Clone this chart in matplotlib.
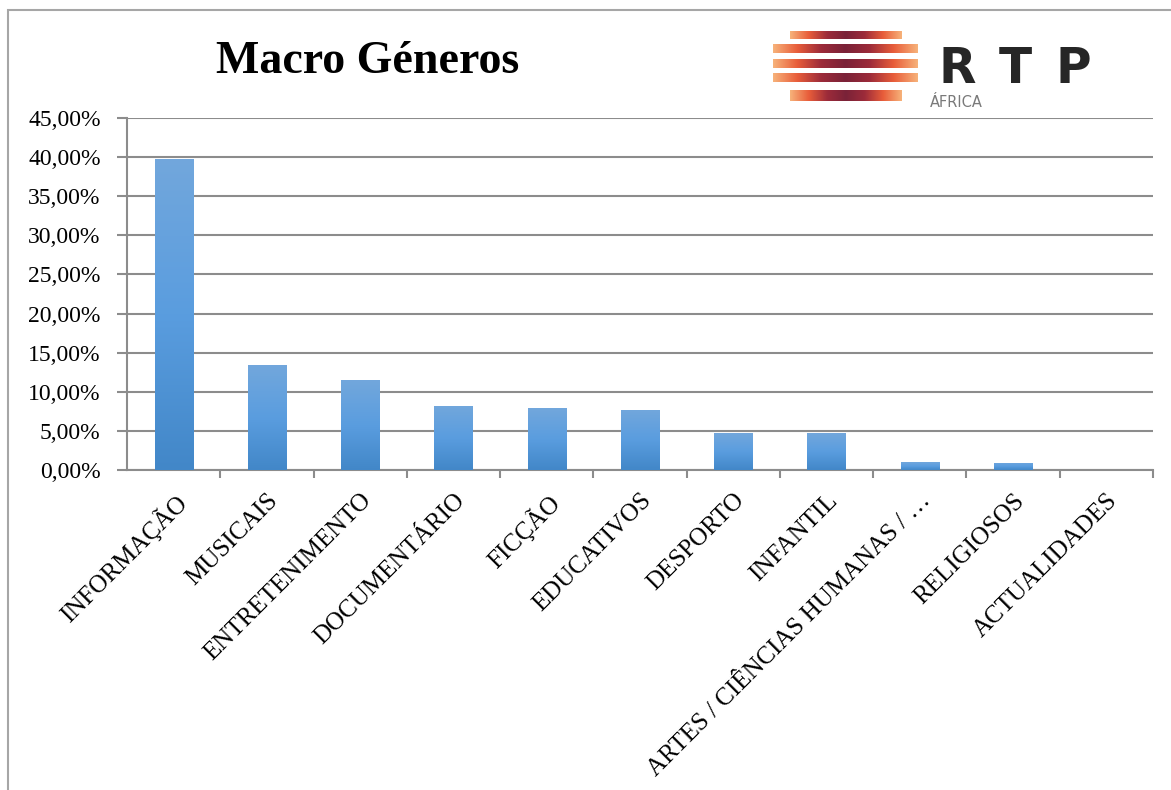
import numpy as np
import matplotlib.pyplot as plt
from matplotlib.colors import LinearSegmentedColormap
from matplotlib.patches import Rectangle

categories = ["INFORMAÇÃO", "MUSICAIS", "ENTRETENIMENTO", "DOCUMENTÁRIO", "FICÇÃO",
              "EDUCATIVOS", "DESPORTO", "INFANTIL", "ARTES / CIÊNCIAS HUMANAS / …",
              "RELIGIOSOS", "ACTUALIDADES"]
values = [39.8, 13.4, 11.5, 8.2, 7.9, 7.7, 4.7, 4.7, 1.0, 0.9, 0.0]
yticks = [0, 5, 10, 15, 20, 25, 30, 35, 40, 45]
ytick_labels = [("%.2f%%" % v).replace(".", ",") for v in yticks]

plt.rcParams['font.family'] = ['Liberation Serif', 'DejaVu Serif']

W, H = 1171, 790
fig = plt.figure(figsize=(W / 100, H / 100), dpi=100)

# outer frame of the chart
fig.patches.append(Rectangle((8 / W, -0.1), 1.2, (H - 10) / H + 0.1, transform=fig.transFigure,
                             fill=False, edgecolor="#a6a6a6", linewidth=1.5))

ax = fig.add_axes([127 / W, 1 - 470 / H, (1153 - 127) / W, (470 - 118) / H])
x = np.arange(len(categories))
bars = ax.bar(x, values, width=0.41, color="#5b9bd5", zorder=3)

# vertical gradient inside each bar
grad = np.linspace(0, 1, 256).reshape(-1, 1)
cmap = LinearSegmentedColormap.from_list("bar", ["#4287c8", "#5a9ddf", "#72a7dc"])
for b in bars:
    if b.get_height() <= 0:
        continue
    bx, by = b.get_x(), b.get_y()
    im = ax.imshow(grad, cmap=cmap, aspect="auto", origin="lower",
                   extent=[bx, bx + b.get_width(), by, by + b.get_height()], zorder=4)
    im.set_clip_path(b)

ax.set_xlim(-0.5, len(categories) - 0.5)
ax.set_ylim(0, 45)
ax.set_yticks(yticks)
ax.set_yticklabels(ytick_labels, fontsize=17)
ax.yaxis.grid(True, color="#8c8c8c", linewidth=1.5, zorder=0)
ax.set_axisbelow(True)

ax.set_xticks(x)
ax.set_xticklabels(categories, rotation=45, ha="right", rotation_mode="anchor", fontsize=18)
ax.tick_params(axis="x", length=0, pad=14)
ax.set_xticks(np.arange(len(categories)) + 0.5, minor=True)
ax.tick_params(axis="x", which="minor", length=6, color="#8c8c8c", width=1.5)
ax.tick_params(axis="y", length=7, color="#8c8c8c", width=1.5, pad=12)

for side in ["top", "right"]:
    ax.spines[side].set_visible(False)
for side in ["left", "bottom"]:
    ax.spines[side].set_color("#8c8c8c")
    ax.spines[side].set_linewidth(1.5)

fig.text(368 / W, 1 - 62 / H, "Macro Géneros", fontsize=33, fontweight="bold",
         ha="center", va="center")

# RTP Africa logo
lax = fig.add_axes([0, 0, 1, 1])
lax.set_xlim(0, W)
lax.set_ylim(H, 0)
lax.axis("off")
stripe_cmap = LinearSegmentedColormap.from_list(
    "stripe", ["#f7b27a", "#e85d3a", "#9c2b3a", "#7a2238", "#9c2b3a", "#e85d3a", "#f7b27a"])
sgrad = np.linspace(0, 1, 256).reshape(1, -1)
stripes = [(790, 902, 31, 39), (773, 918, 44, 53), (773, 918, 59, 68),
           (773, 918, 73, 82), (790, 902, 90, 101)]
for x0, x1, y0, y1 in stripes:
    lax.imshow(sgrad, cmap=stripe_cmap, aspect="auto", extent=[x0, x1, y1, y0])
lax.set_xlim(0, W)
lax.set_ylim(H, 0)
for letter, lx in zip("RTP", [957, 1015, 1073]):
    lax.text(lx, 83, letter, fontsize=35, fontweight="bold", color="#262626",
             family="DejaVu Sans", ha="center", va="baseline")
lax.text(930, 107, "ÁFRICA", fontsize=10.5, color="#7a7a7a", family="DejaVu Sans",
         ha="left", va="baseline")

fig.savefig("out.png", dpi=100)
